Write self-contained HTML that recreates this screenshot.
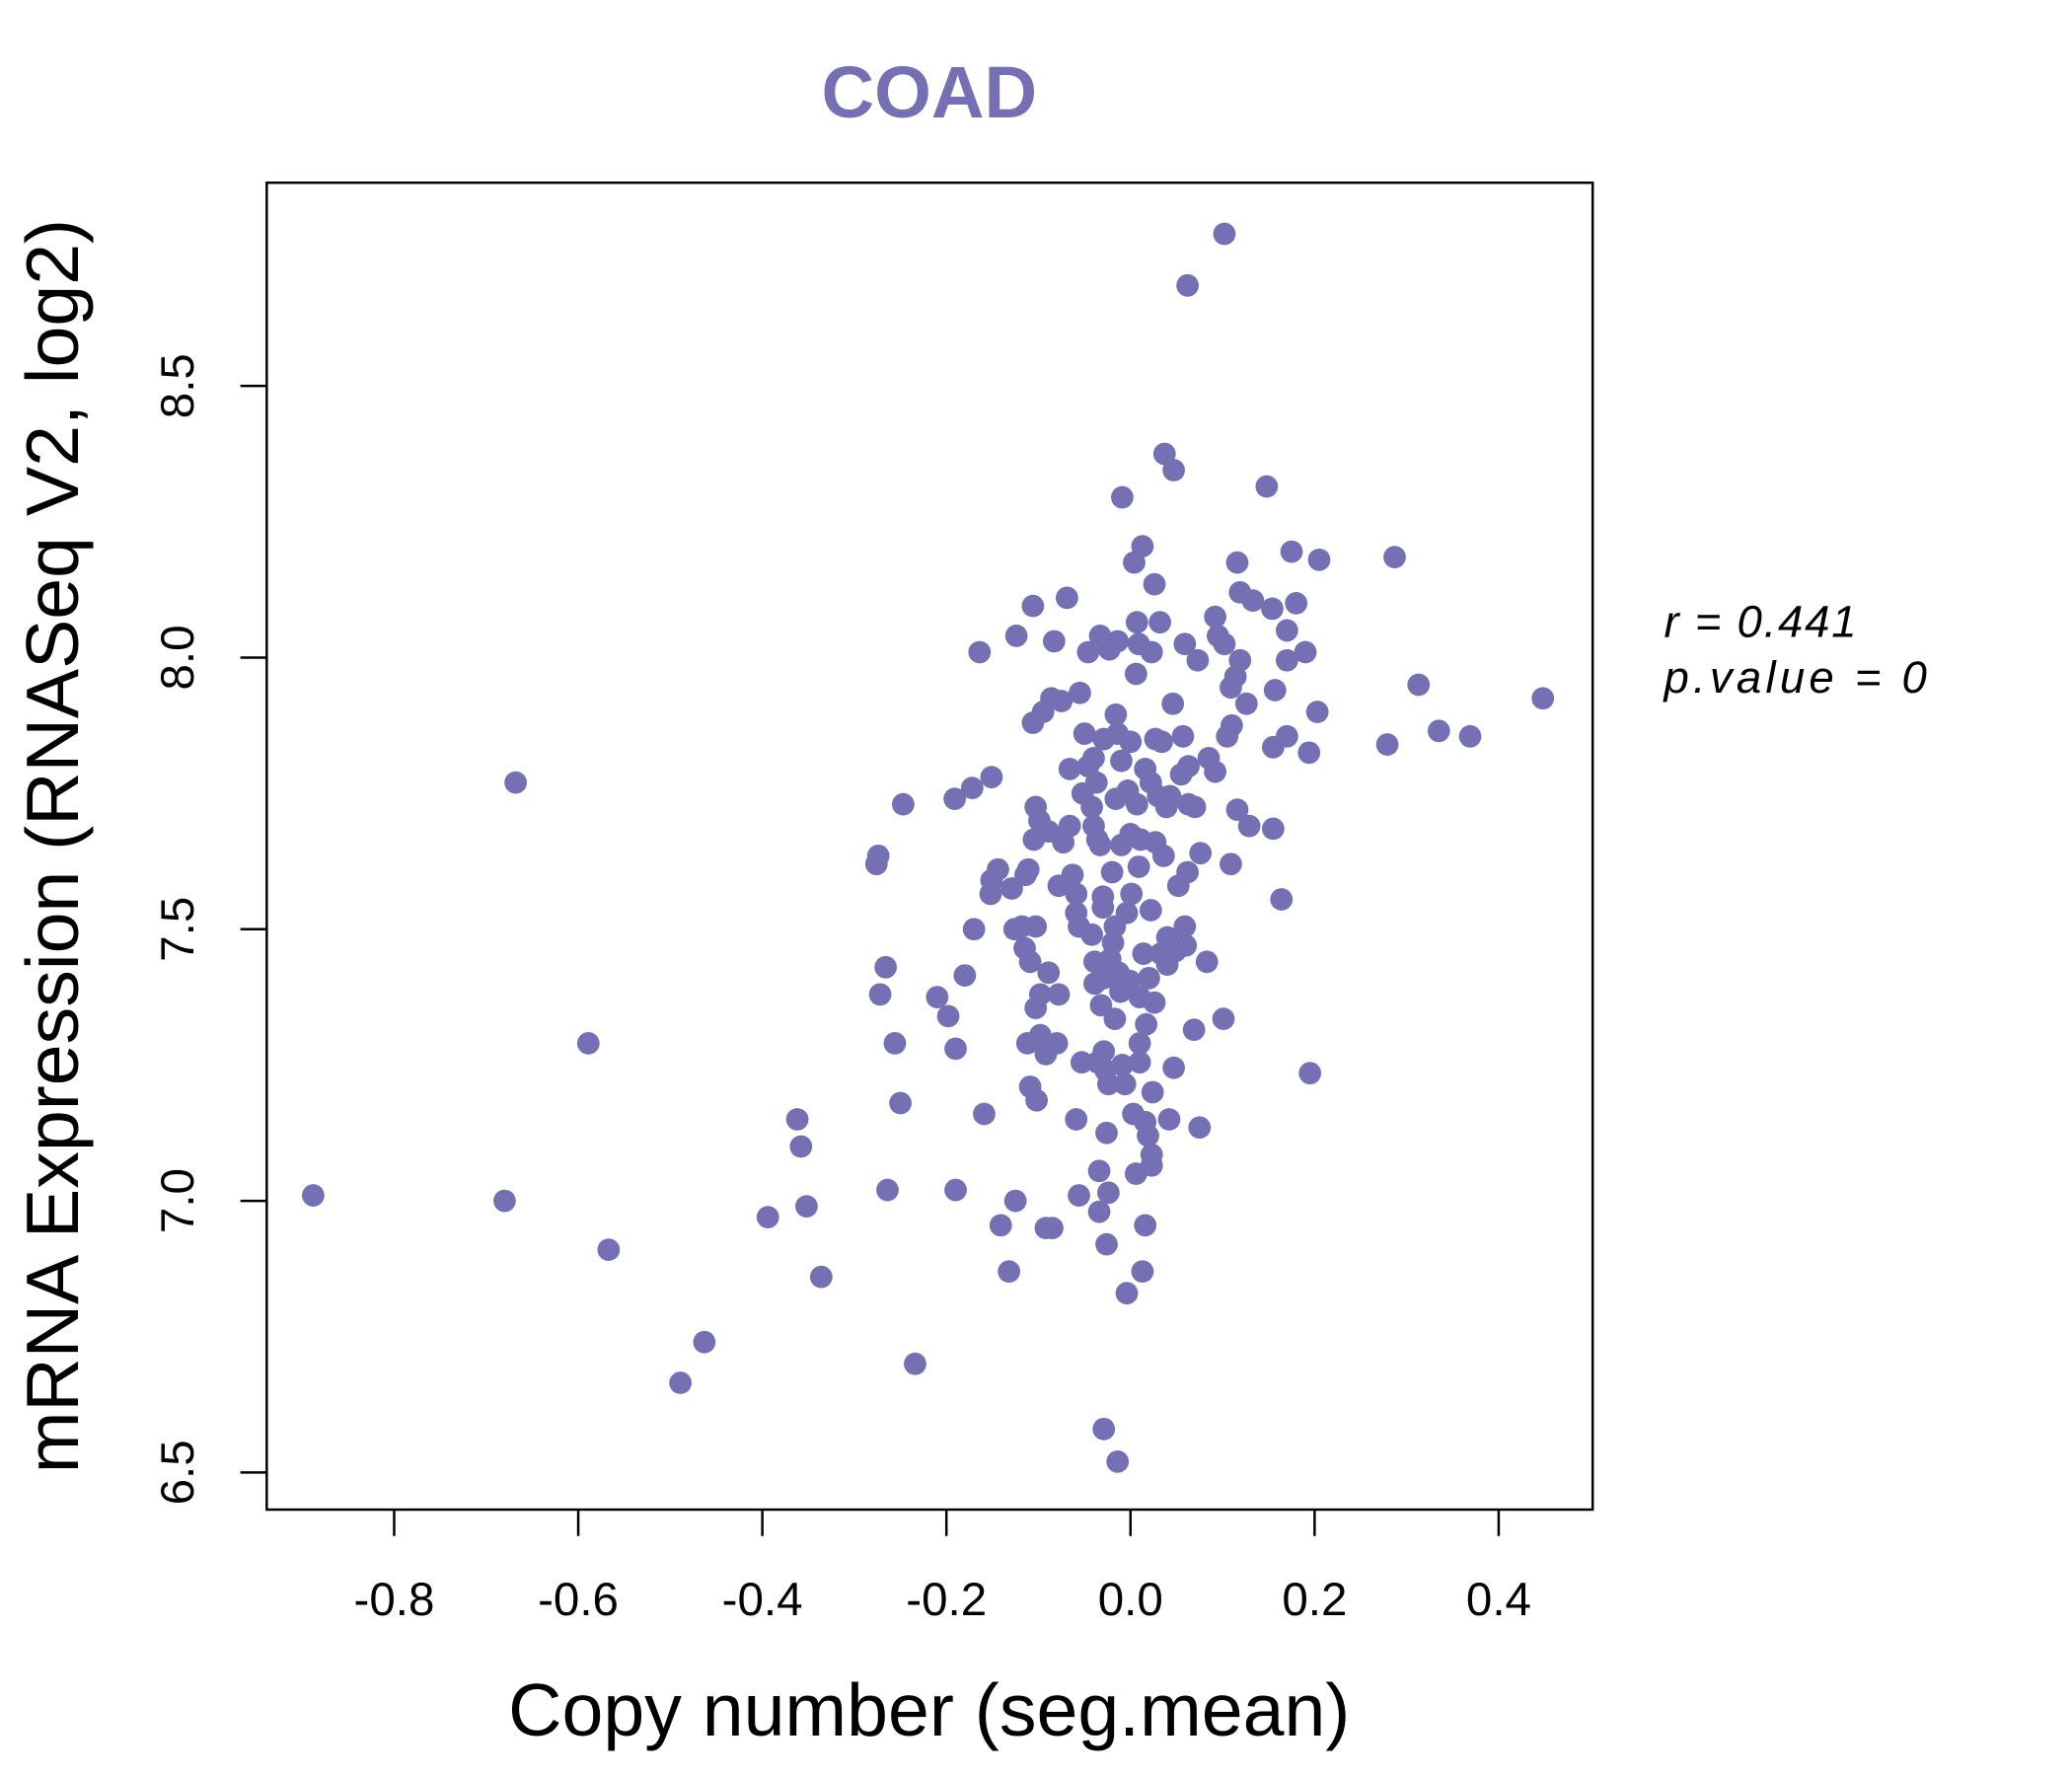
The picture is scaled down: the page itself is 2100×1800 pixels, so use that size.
<!DOCTYPE html>
<html><head><meta charset="utf-8"><style>body{margin:0;background:#fff}svg{display:block}</style></head>
<body>
<svg id="chart" width="2100" height="1800" viewBox="0 0 2100 1800" font-family="Liberation Sans, sans-serif">
<g transform="scale(0.9903)">
<text x="951" y="120" font-size="75" font-weight="bold" fill="#7570b3" text-anchor="middle">COAD</text>
<rect x="273" y="187" width="1357" height="1358" fill="none" stroke="#000" stroke-width="2.5"/>
<g id="xaxis"></g>
<g id="yaxis"></g>
<g id="points"></g>
<text x="951" y="1776" font-size="76" text-anchor="middle">Copy number (seg.mean)</text>
<text transform="translate(80,866) rotate(-90)" font-size="76" text-anchor="middle">mRNA Expression (RNASeq V2, log2)</text>
<text x="1703" y="652" font-size="46" font-style="italic" textLength="197" lengthAdjust="spacing">r = 0.441</text>
<text x="1703" y="709" font-size="46" font-style="italic" textLength="269" lengthAdjust="spacing">p.value = 0</text>
</g>
</svg>
<script>
const xTicks=[-0.8,-0.6,-0.4,-0.2,0.0,0.2,0.4];
const xTickLabels=["-0.8","-0.6","-0.4","-0.2","0.0","0.2","0.4"];
const yTicks=[6.5,7.0,7.5,8.0,8.5];
const yTickLabels=["6.5","7.0","7.5","8.0","8.5"];
const xs=[-0.888,-0.68,-0.668,-0.589,-0.567,-0.489,-0.463,-0.394,-0.362,-0.358,-0.352,-0.336,-0.276,-0.274,-0.266,-0.272,-0.256,-0.25,-0.264,-0.247,-0.234,-0.21,-0.198,-0.19,-0.19,-0.191,-0.18,-0.172,-0.17,-0.164,-0.159,-0.152,-0.151,-0.151,-0.144,-0.141,-0.132,-0.129,-0.126,-0.125,-0.124,-0.118,-0.114,-0.111,-0.106,-0.106,-0.115,-0.109,-0.103,-0.109,-0.102,-0.103,-0.098,-0.103,-0.105,-0.099,-0.112,-0.098,-0.092,-0.095,-0.086,-0.092,-0.085,-0.089,-0.083,-0.08,-0.078,-0.089,-0.075,-0.078,-0.069,-0.073,-0.066,-0.066,-0.063,-0.059,-0.059,-0.056,-0.059,-0.056,-0.055,-0.053,-0.05,-0.052,-0.046,-0.046,-0.042,-0.042,-0.04,-0.04,-0.039,-0.039,-0.037,-0.036,-0.036,-0.034,-0.034,-0.033,-0.033,-0.03,-0.03,-0.032,-0.029,-0.029,-0.027,-0.029,-0.029,-0.026,-0.026,-0.024,-0.024,-0.023,-0.022,-0.02,-0.019,-0.017,-0.017,-0.016,-0.016,-0.014,-0.014,-0.014,-0.013,-0.011,-0.01,-0.01,-0.009,-0.009,-0.006,-0.004,-0.004,-0.003,-0.001,0,0,0.001,0.003,0.004,0.006,0.006,0.007,0.009,0.007,0.009,0.01,0.01,0.01,0.011,0.013,0.013,0.014,0.016,0.016,0.016,0.017,0.019,0.02,0.022,0.022,0.023,0.023,0.023,0.024,0.026,0.026,0.027,0.027,0.03,0.032,0.033,0.034,0.036,0.037,0.039,0.04,0.04,0.042,0.043,0.046,0.047,0.047,0.049,0.052,0.055,0.057,0.059,0.059,0.06,0.062,0.062,0.063,0.063,0.069,0.07,0.073,0.075,0.076,0.083,0.085,0.092,0.092,0.095,0.101,0.102,0.102,0.105,0.109,0.109,0.11,0.114,0.116,0.116,0.119,0.119,0.126,0.129,0.133,0.148,0.154,0.155,0.155,0.157,0.164,0.17,0.17,0.17,0.175,0.18,0.19,0.194,0.195,0.203,0.205,0.279,0.287,0.313,0.335,0.369,0.448];
const ys=[7.01,7.00,7.77,7.29,6.91,6.665,6.74,6.97,7.15,7.10,6.99,6.86,7.62,7.635,7.43,7.38,7.29,7.18,7.02,7.73,6.70,7.375,7.34,7.28,7.02,7.74,7.415,7.76,7.50,8.01,7.16,7.565,7.78,7.59,7.61,6.955,6.87,7.575,7.50,7.00,8.04,7.505,7.60,7.61,8.095,7.88,7.465,7.44,7.505,7.21,7.185,7.355,7.38,7.725,7.665,7.70,7.29,7.305,7.27,7.90,7.925,6.95,6.95,7.68,8.03,7.29,7.38,7.42,7.92,7.58,8.11,7.66,7.69,7.795,7.60,7.565,7.53,7.505,7.15,7.01,7.935,7.255,7.86,7.75,7.80,8.01,7.725,7.49,7.815,7.69,7.44,7.40,7.77,7.255,7.665,6.98,7.055,8.04,7.655,7.56,7.54,7.36,6.58,7.275,7.24,7.85,7.41,6.92,7.125,7.015,7.215,8.015,7.445,7.605,7.475,7.505,7.335,7.895,7.74,6.52,8.03,7.86,7.42,7.385,7.655,7.81,8.295,7.25,7.215,6.83,7.53,7.755,7.405,7.675,7.845,7.565,7.16,8.175,7.97,7.05,8.065,8.025,7.73,7.615,7.375,7.29,7.255,7.665,8.205,6.87,7.455,6.955,7.145,7.795,7.325,7.12,7.41,7.77,7.535,7.085,7.065,8.01,7.20,8.135,7.365,7.85,7.66,7.745,8.065,7.455,7.845,7.635,8.375,7.725,7.485,7.435,7.15,7.745,7.915,8.345,7.245,7.46,7.58,7.785,7.855,8.025,7.505,7.47,7.605,8.685,7.73,7.80,7.315,7.725,7.995,7.135,7.64,7.44,7.815,7.79,8.075,8.04,7.335,8.78,8.025,7.855,7.62,7.945,7.875,7.965,7.72,8.175,8.12,7.995,7.915,7.69,8.105,8.315,8.09,7.685,7.835,7.94,7.555,8.05,7.995,7.855,8.195,8.10,8.01,7.825,7.235,7.90,8.18,7.84,8.185,7.95,7.865,7.855,7.925];
const NS="http://www.w3.org/2000/svg";
function sx(v){return 1157+v*942;}
function sy(v){return 1507-(v-6.5)*556;}
function mk(t,a,p){const e=document.createElementNS(NS,t);for(const k in a)e.setAttribute(k,a[k]);p.appendChild(e);return e;}
const xa=document.getElementById('xaxis'),ya=document.getElementById('yaxis'),pg=document.getElementById('points');
xTicks.forEach((v,i)=>{
 const l=mk('line',{x1:sx(v),x2:sx(v),y1:1545,y2:1572,stroke:'#000','stroke-width':2.5},xa);
 
 
 const t=mk('text',{x:sx(v),y:1653,'font-size':48,'text-anchor':'middle'},xa);
 t.textContent=xTickLabels[i];
 
 
});
yTicks.forEach((v,i)=>{
 const l=mk('line',{x1:246,x2:273,y1:sy(v),y2:sy(v),stroke:'#000','stroke-width':2.5},ya);
 
 
 const t=mk('text',{transform:`translate(198,${sy(v)}) rotate(-90)`,'font-size':48,'text-anchor':'middle'},ya);
 t.textContent=yTickLabels[i];
 
 
});
xs.forEach((v,i)=>{
 const c=mk('circle',{cx:sx(v),cy:sy(ys[i]),r:11.5,fill:'#7570b3'},pg);
 
 
});
</script>
</body></html>
